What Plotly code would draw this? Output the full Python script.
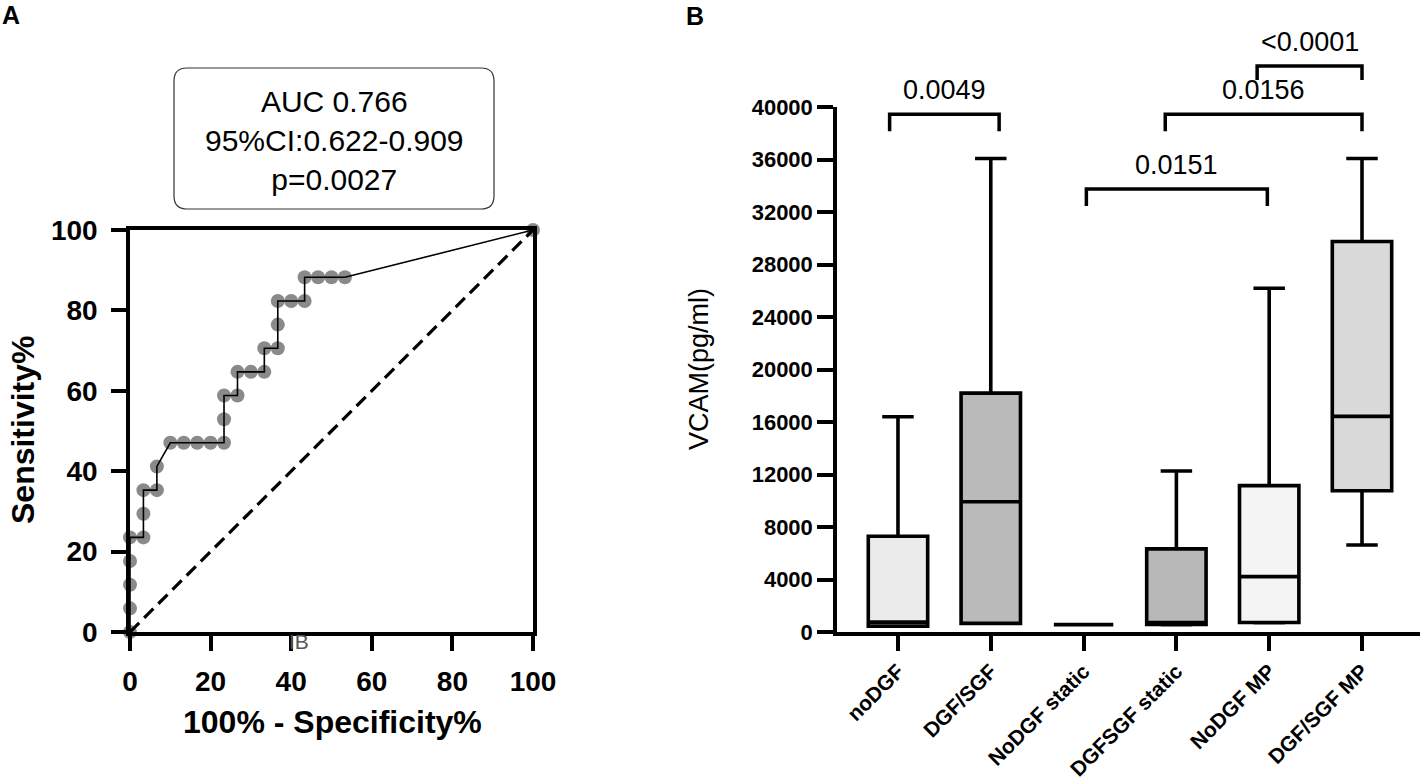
import plotly.graph_objects as go

W, H = 1426, 781
FONT = "Liberation Sans"

# ---------------- data: panel A (ROC) ----------------
fpr = [0, 0, 0, 0, 0, 3.33, 3.33, 3.33, 6.67, 6.67, 10, 13.33, 16.67, 20, 23.33,
       23.33, 23.33, 26.67, 26.67, 30, 33.33, 33.33, 36.67, 36.67, 36.67, 40,
       43.33, 43.33, 46.67, 50, 53.33, 100]
tpr = [0, 5.88, 11.76, 17.65, 23.53, 23.53, 29.41, 35.29, 35.29, 41.18, 47.06,
       47.06, 47.06, 47.06, 47.06, 52.94, 58.82, 58.82, 64.71, 64.71, 64.71,
       70.59, 70.59, 76.47, 82.35, 82.35, 82.35, 88.24, 88.24, 88.24, 88.24, 100]
ref_line = [0, 100]
roc_ticks = [0, 20, 40, 60, 80, 100]
auc_text = "AUC 0.766<br>95%CI:0.622-0.909<br>p=0.0027"

# ---------------- data: panel B (box plots) ----------------
categories = ["noDGF", "DGF/SGF", "NoDGF static", "DGFSGF static", "NoDGF MP", "DGF/SGF MP"]
v_min = [450, 660, 560, 560, 700, 6630]
v_q1 = [450, 660, 560, 570, 720, 10760]
v_median = [750, 9920, 560, 720, 4220, 16430]
v_q3 = [7300, 18200, 560, 6330, 11150, 29750]
v_max = [16400, 36080, 560, 12270, 26190, 36080]
box_fill = ["#ebebeb", "#bababa", "#cccccc", "#b8b8b8", "#f4f4f4", "#d9d9d9"]
vcam_ticks = list(range(0, 40001, 4000))

p_labels = ["0.0049", "0.0151", "0.0156", "<0.0001"]
p_left = [-0.09, 2.03, 2.88, 3.87]
p_right = [1.09, 3.98, 5.0, 5.0]
p_top = [39450, 33750, 39450, 43120]
p_drop = [1300, 1300, 1300, 1070]

# ---------------- layout geometry (pixels) ----------------
def fx(px):
    return px / W

def fy(py):
    return 1 - py / H

A_x0, A_x1, A_y0, A_y1 = 130, 533, 230, 632
B_x0, B_x1, B_ytop, B_ybot = 837, 1420, 107, 632
B_xrange = [-0.657, 5.625]
px_per_unit = (B_ybot - B_ytop) / 40000.0
B3_top = B_ybot / px_per_unit  # value at top of page

fig = go.Figure()

# ROC markers
fig.add_trace(go.Scatter(x=fpr, y=tpr, mode="markers",
                         marker=dict(size=14, color="#8a8a8a"),
                         cliponaxis=False, showlegend=False, xaxis="x", yaxis="y"))
# ROC line
fig.add_trace(go.Scatter(x=fpr, y=tpr, mode="lines",
                         line=dict(color="black", width=1.6),
                         showlegend=False, xaxis="x", yaxis="y"))
# diagonal reference
fig.add_trace(go.Scatter(x=ref_line, y=ref_line, mode="lines",
                         line=dict(color="black", width=3.2, dash="13px,7px"),
                         showlegend=False, xaxis="x", yaxis="y"))

# Box plots
for i, c in enumerate(categories):
    fig.add_trace(go.Box(
        x=[c], q1=[v_q1[i]], median=[v_median[i]], q3=[v_q3[i]],
        lowerfence=[v_min[i]], upperfence=[v_max[i]],
        fillcolor=box_fill[i], line=dict(color="black", width=3.6),
        width=0.64, whiskerwidth=0.53, boxpoints=False,
        showlegend=False, xaxis="x2", yaxis="y2", hoverinfo="skip"))

# significance brackets
for i, lab in enumerate(p_labels):
    a, b, t, d = p_left[i], p_right[i], p_top[i], p_drop[i]
    fig.add_trace(go.Scatter(x=[a, a, b, b], y=[t - d, t, t, t - d], mode="lines",
                             line=dict(color="black", width=3.5),
                             showlegend=False, xaxis="x3", yaxis="y3", hoverinfo="skip"))
    fig.add_annotation(x=(a + b) / 2, y=t + 1850, xref="x3", yref="y3",
                       text=lab, showarrow=False, yanchor="middle", xanchor="center",
                       font=dict(family=FONT, size=27, color="black"))

axis_common = dict(showgrid=False, zeroline=False, ticks="outside", automargin=False,
                   linecolor="black", tickcolor="black", showline=True)

fig.update_layout(
    template="none",
    width=W, height=H, margin=dict(l=0, r=0, t=0, b=0, autoexpand=False),
    paper_bgcolor="white", plot_bgcolor="rgba(0,0,0,0)",
    font=dict(family=FONT, color="black"),
    xaxis=dict(domain=[fx(A_x0), fx(A_x1)], range=[0, 100], tickvals=roc_ticks,
               ticklen=15, tickwidth=3.5, linewidth=3.5, mirror=True,
               tickfont=dict(family=FONT, size=28, weight="bold"),
               ticklabelstandoff=7, anchor="y", **axis_common),
    yaxis=dict(domain=[fy(A_y1), fy(A_y0)], range=[0, 100], tickvals=roc_ticks,
               ticklen=15, tickwidth=3.5, linewidth=3.5, mirror=True,
               tickfont=dict(family=FONT, size=28, weight="bold"),
               ticklabelstandoff=8, anchor="x", **axis_common),
    xaxis2=dict(domain=[fx(B_x0), fx(B_x1)], type="category", range=B_xrange,
                categoryorder="array", categoryarray=categories,
                tickangle=-45, ticklen=15, tickwidth=3.5, linewidth=3.5,
                tickfont=dict(family=FONT, size=21, weight="bold"),
                anchor="y2", **axis_common),
    yaxis2=dict(domain=[fy(B_ybot), fy(B_ytop)], range=[0, 40000], tickvals=vcam_ticks,
                tickformat="d", ticklen=16, tickwidth=3.5, linewidth=3.5,
                tickfont=dict(family=FONT, size=22, weight="bold"),
                anchor="x2", **axis_common),
    xaxis3=dict(domain=[fx(B_x0), fx(B_x1)], range=B_xrange, visible=False,
                anchor="y3", fixedrange=True),
    yaxis3=dict(domain=[fy(B_ybot), 1], range=[0, B3_top], visible=False,
                anchor="x3", fixedrange=True),
)

# AUC box with rounded corners
bx0, bx1, by0, by1, r = 174, 494, 68, 209, 13
path = (f"M {fx(bx0 + r)},{fy(by0)} L {fx(bx1 - r)},{fy(by0)} "
        f"Q {fx(bx1)},{fy(by0)} {fx(bx1)},{fy(by0 + r)} "
        f"L {fx(bx1)},{fy(by1 - r)} Q {fx(bx1)},{fy(by1)} {fx(bx1 - r)},{fy(by1)} "
        f"L {fx(bx0 + r)},{fy(by1)} Q {fx(bx0)},{fy(by1)} {fx(bx0)},{fy(by1 - r)} "
        f"L {fx(bx0)},{fy(by0 + r)} Q {fx(bx0)},{fy(by0)} {fx(bx0 + r)},{fy(by0)} Z")
fig.add_shape(type="path", path=path, xref="paper", yref="paper",
              line=dict(color="#333333", width=1.2), fillcolor="white")
fig.add_annotation(x=fx(334), y=fy(140), xref="paper", yref="paper", text=auc_text,
                   showarrow=False, align="center", xanchor="center", yanchor="middle",
                   font=dict(family=FONT, size=30, color="black"))

# axis titles and panel letters
def label(xp, yp, text, size, bold=True, angle=0, color="black"):
    fig.add_annotation(x=fx(xp), y=fy(yp), xref="paper", yref="paper", text=text,
                       showarrow=False, textangle=angle, xanchor="center", yanchor="middle",
                       font=dict(family=FONT, size=size, color=color,
                                 weight="bold" if bold else "normal"))

label(332, 722, "100% - Specificity%", 32)
label(23, 430, "Sensitivity%", 32, angle=-90)
label(699, 369, "VCAM(pg/ml)", 27, bold=False, angle=-90)
label(299, 641, "IB", 21, bold=False, color="#555555")
label(11, 15, "A", 25)
label(695, 16, "B", 25)

fig.write_html("out.html", config={"displayModeBar": False},
               post_script="document.body.style.margin='0px';document.body.style.overflow='hidden';")
